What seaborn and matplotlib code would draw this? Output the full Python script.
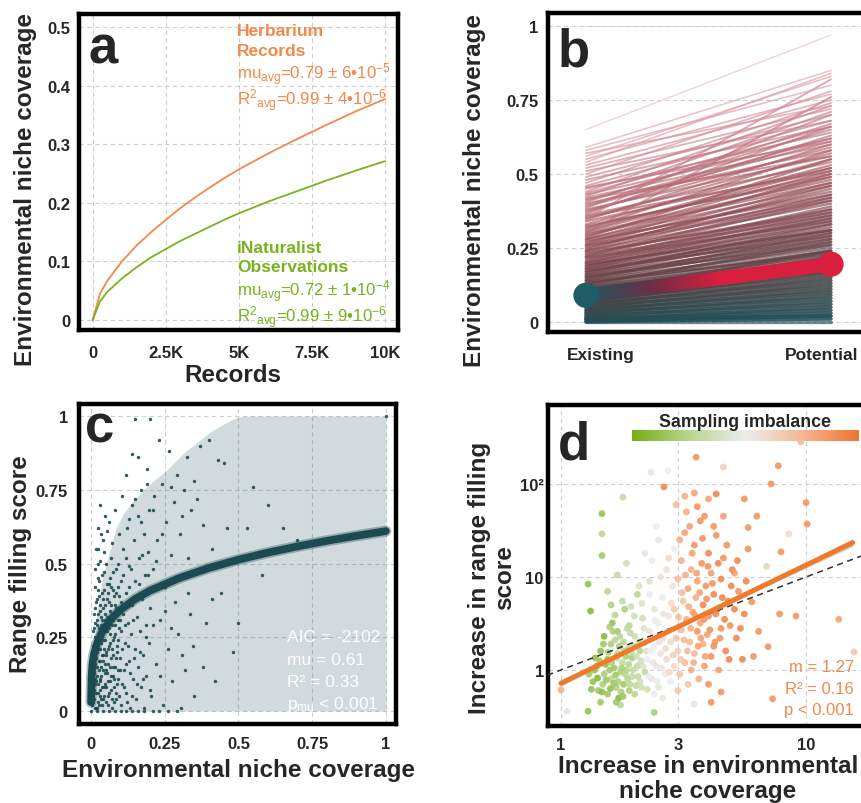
import numpy as np
import pandas as pd
import matplotlib
matplotlib.use("Agg")
import matplotlib.pyplot as plt
import seaborn as sns
from matplotlib.colors import LinearSegmentedColormap, Normalize
from matplotlib.collections import LineCollection
from matplotlib.transforms import ScaledTranslation
from matplotlib.cm import ScalarMappable

sns.set_theme(style="white")
plt.rcParams["font.family"] = ["Liberation Sans", "DejaVu Sans"]
plt.rcParams["mathtext.fontset"] = "custom"
plt.rcParams["mathtext.rm"] = "Liberation Sans"
plt.rcParams["mathtext.it"] = "Liberation Sans:italic"
plt.rcParams["mathtext.bf"] = "Liberation Sans:bold"

# ---------------- a: 누적 곡선 ----------------
a_records = [0, 250, 500, 1000, 1500, 2000, 2500, 3000, 3500, 4000, 4500, 5000,
             6000, 7000, 7500, 8000, 9000, 10000]
a_herbarium = [0.0, 0.045, 0.067, 0.100, 0.127, 0.150, 0.171, 0.191, 0.209, 0.226, 0.242, 0.257,
               0.284, 0.309, 0.321, 0.333, 0.356, 0.377]
a_inat = [0.0, 0.032, 0.048, 0.071, 0.090, 0.107, 0.121, 0.135, 0.147, 0.159, 0.171, 0.182,
          0.202, 0.220, 0.229, 0.238, 0.255, 0.271]

# ---------------- b: existing -> potential ----------------
b_species = [
    (1.0, 1.0), (0.65, 0.97), (0.59, 0.85), (0.58, 0.80), (0.57, 0.73), (0.56, 0.83), (0.55, 0.77),
    (0.54, 0.84), (0.53, 0.75), (0.52, 0.72), (0.51, 0.68), (0.50, 0.78), (0.49, 0.70), (0.48, 0.66),
    (0.47, 0.74), (0.46, 0.68), (0.455, 0.61), (0.45, 0.64), (0.44, 0.73), (0.435, 0.66), (0.43, 0.62),
    (0.425, 0.71), (0.42, 0.60), (0.415, 0.56), (0.41, 0.65), (0.405, 0.67), (0.40, 0.58), (0.395, 0.62),
    (0.39, 0.61), (0.385, 0.70), (0.38, 0.56), (0.375, 0.59), (0.37, 0.63), (0.365, 0.66), (0.36, 0.54),
    (0.355, 0.51), (0.35, 0.82), (0.35, 0.57), (0.345, 0.60), (0.34, 0.52), (0.33, 0.55), (0.325, 0.49),
    (0.32, 0.50), (0.315, 0.58), (0.31, 0.53), (0.305, 0.52), (0.30, 0.48), (0.30, 0.76), (0.295, 0.47),
    (0.29, 0.51), (0.285, 0.55), (0.28, 0.46), (0.28, 0.49), (0.275, 0.43), (0.27, 0.44), (0.265, 0.50),
    (0.26, 0.47), (0.26, 0.42), (0.255, 0.41), (0.25, 0.45), (0.245, 0.46), (0.24, 0.40), (0.24, 0.43),
    (0.235, 0.37), (0.23, 0.38), (0.225, 0.42), (0.22, 0.41), (0.22, 0.36), (0.215, 0.34), (0.21, 0.39),
    (0.205, 0.38), (0.20, 0.35), (0.20, 0.37), (0.195, 0.31), (0.19, 0.33), (0.19, 0.36), (0.185, 0.35),
    (0.18, 0.31), (0.18, 0.34), (0.175, 0.29), (0.17, 0.30), (0.17, 0.32), (0.165, 0.33), (0.16, 0.28),
    (0.16, 0.31), (0.155, 0.26), (0.15, 0.27), (0.15, 0.29), (0.145, 0.30), (0.14, 0.25), (0.14, 0.28),
    (0.135, 0.23), (0.13, 0.24), (0.13, 0.26), (0.125, 0.27), (0.12, 0.22), (0.12, 0.24), (0.115, 0.20),
    (0.11, 0.21), (0.11, 0.23), (0.105, 0.17), (0.10, 0.19), (0.10, 0.21), (0.098, 0.24), (0.09, 0.18),
    (0.09, 0.20), (0.088, 0.22), (0.085, 0.17), (0.08, 0.16), (0.08, 0.18), (0.078, 0.19), (0.075, 0.15),
    (0.07, 0.14), (0.07, 0.16), (0.068, 0.17), (0.065, 0.13), (0.06, 0.12), (0.06, 0.14), (0.058, 0.15),
    (0.055, 0.11), (0.05, 0.10), (0.05, 0.12), (0.048, 0.13), (0.045, 0.09), (0.04, 0.08), (0.04, 0.10),
    (0.038, 0.11), (0.035, 0.07), (0.03, 0.06), (0.03, 0.08), (0.028, 0.09), (0.025, 0.05), (0.02, 0.04),
    (0.02, 0.06), (0.018, 0.07), (0.015, 0.03), (0.012, 0.02), (0.01, 0.02), (0.01, 0.04), (0.008, 0.05),
    (0.005, 0.01), (0.002, 0.03), (0.0, 0.0), (0.0, 0.01), (0.0, 0.02),
]
b_stages = ["Existing", "Potential"]
b_mean = [0.09, 0.195]

# ---------------- c: range filling vs niche coverage ----------------
c_points = [
    (0.004, 0.02), (0.006, 0.08), (0.008, 0.15), (0.01, 0.04), (0.012, 0.22), (0.013, 0.11), (0.015, 0.30),
    (0.016, 0.06), (0.018, 0.18), (0.02, 0.38), (0.021, 0.01), (0.022, 0.26), (0.024, 0.09), (0.025, 0.33),
    (0.027, 0.14), (0.028, 0.44), (0.03, 0.05), (0.031, 0.21), (0.033, 0.29), (0.034, 0.12), (0.036, 0.40),
    (0.037, 0.02), (0.039, 0.17), (0.04, 0.35), (0.041, 0.24), (0.043, 0.08), (0.045, 0.47), (0.046, 0.31),
    (0.048, 0.13), (0.05, 0.20), (0.051, 0.03), (0.053, 0.38), (0.054, 0.27), (0.056, 0.10), (0.058, 0.16),
    (0.06, 0.43), (0.061, 0.06), (0.063, 0.23), (0.065, 0.34), (0.066, 0.52), (0.068, 0.12), (0.07, 0.29),
    (0.072, 0.01), (0.074, 0.19), (0.075, 0.41), (0.077, 0.08), (0.079, 0.25), (0.08, 0.36), (0.082, 0.15),
    (0.084, 0.48), (0.086, 0.04), (0.088, 0.22), (0.09, 0.31), (0.092, 0.11), (0.095, 0.39), (0.097, 0.18),
    (0.1, 0.27), (0.1, 0.02), (0.102, 0.44), (0.105, 0.09),
    (0.012, 0.48), (0.018, 0.55), (0.025, 0.62), (0.032, 0.51), (0.04, 0.58), (0.048, 0.66), (0.03, 0.70),
    (0.055, 0.61), (0.015, 0.42), (0.022, 0.50),
    (0.108, 0.33), (0.11, 0.55), (0.112, 0.14), (0.115, 0.23), (0.118, 0.06), (0.12, 0.40), (0.122, 0.62),
    (0.125, 0.30), (0.128, 0.17), (0.13, 0.49), (0.132, 0.01), (0.135, 0.26), (0.138, 0.70), (0.14, 0.36),
    (0.142, 0.11), (0.145, 0.58), (0.148, 0.21), (0.15, 0.44), (0.153, 0.04), (0.155, 0.32), (0.158, 0.66),
    (0.16, 0.15), (0.163, 0.52), (0.165, 0.27), (0.168, 0.08), (0.17, 0.75), (0.173, 0.38), (0.175, 0.19),
    (0.178, 0.60), (0.18, 0.01), (0.183, 0.46), (0.185, 0.29), (0.188, 0.12), (0.19, 0.82), (0.193, 0.54),
    (0.195, 0.23), (0.198, 0.68), (0.2, 0.35), (0.14, 0.87), (0.16, 0.86), (0.12, 0.80), (0.15, 0.99),
    (0.2, 0.99),
    (0.205, 0.05), (0.21, 0.48), (0.215, 0.73), (0.22, 0.16), (0.225, 0.58), (0.23, 0.92), (0.235, 0.31),
    (0.24, 0.77), (0.245, 0.02), (0.25, 0.42), (0.255, 0.64), (0.26, 0.21), (0.265, 0.88), (0.27, 0.53),
    (0.275, 0.10), (0.28, 0.71), (0.285, 0.37), (0.29, 0.80), (0.295, 0.26), (0.3, 0.60), (0.305, 0.01),
    (0.31, 0.45), (0.315, 0.75), (0.32, 0.14), (0.325, 0.86), (0.33, 0.52), (0.335, 0.33), (0.34, 0.68),
    (0.345, 0.22), (0.35, 0.78), (0.23, 0.0), (0.26, 0.0), (0.29, 0.0), (0.21, 0.0),
    (0.36, 0.47), (0.37, 0.90), (0.38, 0.63), (0.39, 0.30), (0.40, 0.92), (0.41, 0.55), (0.42, 0.10),
    (0.43, 0.85), (0.44, 0.40), (0.45, 0.84), (0.46, 0.62), (0.48, 0.20), (0.5, 0.30), (0.53, 0.62),
    (0.55, 0.76), (0.58, 0.46), (0.6, 0.70), (0.65, 0.62), (0.7, 0.58), (1.0, 1.0), (0.38, 0.15), (0.41, 0.38),
    (0.0, 0.0), (0.02, 0.0), (0.04, 0.0), (0.06, 0.0), (0.08, 0.0), (0.1, 0.0), (0.12, 0.0), (0.14, 0.0),
    (0.16, 0.0), (0.18, 0.0),
    (0.002, 0.05), (0.003, 0.12), (0.005, 0.19), (0.006, 0.03), (0.007, 0.27), (0.009, 0.10), (0.011, 0.33),
    (0.011, 0.07), (0.014, 0.16), (0.014, 0.25), (0.016, 0.37), (0.017, 0.01), (0.019, 0.12), (0.019, 0.29),
    (0.021, 0.20), (0.023, 0.45), (0.023, 0.03), (0.026, 0.17), (0.026, 0.39), (0.028, 0.23), (0.029, 0.11),
    (0.032, 0.34), (0.032, 0.07), (0.034, 0.26), (0.035, 0.15), (0.037, 0.46), (0.038, 0.31), (0.04, 0.04),
    (0.042, 0.19), (0.043, 0.41), (0.044, 0.28), (0.047, 0.09), (0.047, 0.36), (0.049, 0.24), (0.052, 0.14),
    (0.052, 0.50), (0.055, 0.32), (0.057, 0.05), (0.057, 0.21), (0.059, 0.40), (0.062, 0.28), (0.064, 0.15),
    (0.064, 0.45), (0.067, 0.07), (0.069, 0.36), (0.071, 0.21), (0.073, 0.12), (0.073, 0.47), (0.076, 0.31),
    (0.078, 0.03), (0.081, 0.26), (0.083, 0.40), (0.085, 0.18), (0.087, 0.09), (0.089, 0.34), (0.091, 0.50),
    (0.093, 0.24), (0.096, 0.05), (0.098, 0.31), (0.099, 0.14), (0.103, 0.37), (0.106, 0.21), (0.109, 0.46),
    (0.111, 0.08), (0.114, 0.29), (0.117, 0.16), (0.119, 0.52), (0.121, 0.03), (0.124, 0.36), (0.127, 0.22),
    (0.129, 0.42), (0.133, 0.13), (0.136, 0.48), (0.139, 0.05), (0.143, 0.31), (0.147, 0.18), (0.151, 0.38),
    (0.156, 0.09), (0.161, 0.43), (0.166, 0.20), (0.172, 0.53), (0.177, 0.11), (0.182, 0.40), (0.188, 0.25),
    (0.194, 0.46), (0.2, 0.07), (0.21, 0.29), (0.22, 0.51), (0.235, 0.12), (0.25, 0.34), (0.27, 0.28),
    (0.29, 0.45), (0.31, 0.19), (0.33, 0.40), (0.35, 0.05), (0.025, 0.55), (0.035, 0.60), (0.045, 0.54),
    (0.06, 0.64), (0.07, 0.57), (0.08, 0.68), (0.095, 0.60), (0.105, 0.73), (0.13, 0.65), (0.15, 0.72),
    (0.17, 0.64), (0.19, 0.77), (0.21, 0.68), (0.24, 0.60), (0.27, 0.76), (0.31, 0.66), (0.36, 0.72),
    (0.003, 0.07), (0.004, 0.16), (0.006, 0.22), (0.007, 0.04), (0.009, 0.13), (0.01, 0.28), (0.012, 0.09),
    (0.013, 0.19), (0.015, 0.01), (0.015, 0.35), (0.017, 0.24), (0.018, 0.10), (0.02, 0.15), (0.02, 0.31),
    (0.022, 0.06), (0.023, 0.21), (0.025, 0.41), (0.026, 0.02), (0.027, 0.28), (0.029, 0.17), (0.03, 0.36),
    (0.031, 0.10), (0.033, 0.23), (0.034, 0.04), (0.035, 0.32), (0.036, 0.19), (0.038, 0.08), (0.039, 0.27),
    (0.041, 0.14), (0.042, 0.38), (0.044, 0.05), (0.045, 0.21), (0.046, 0.16), (0.048, 0.33), (0.05, 0.08),
    (0.05, 0.27), (0.052, 0.19), (0.054, 0.43), (0.055, 0.13), (0.057, 0.30), (0.059, 0.02), (0.06, 0.22),
    (0.062, 0.37), (0.063, 0.10), (0.065, 0.26), (0.067, 0.18), (0.068, 0.42), (0.07, 0.04), (0.071, 0.33),
    (0.073, 0.15), (0.075, 0.24), (0.077, 0.39), (0.078, 0.11), (0.08, 0.29), (0.083, 0.06), (0.085, 0.35),
    (0.087, 0.20), (0.09, 0.14), (0.093, 0.42), (0.095, 0.28),
]
c_curve_x = [0.0, 0.002, 0.005, 0.01, 0.02, 0.04, 0.07, 0.1, 0.15, 0.2, 0.3, 0.4, 0.5, 0.6, 0.7, 0.8, 0.9, 1.0]
c_curve_y = [0.03, 0.12, 0.162, 0.193, 0.229, 0.273, 0.314, 0.343, 0.380, 0.408, 0.451, 0.485, 0.513,
             0.537, 0.558, 0.577, 0.594, 0.61]
c_band_x = [0.0, 0.005, 0.02, 0.04, 0.06, 0.085, 0.11, 0.15, 0.2, 0.26, 0.32, 0.41, 0.48, 0.52, 1.0]
c_band_hi = [0.03, 0.15, 0.33, 0.46, 0.53, 0.62, 0.67, 0.72, 0.77, 0.82, 0.88, 0.95, 0.99, 1.0, 1.0]

# ---------------- d: 증가량 (log-log) ----------------
d_points = [
    (1.35, 0.75, -0.8), (1.4, 1.1, -0.9), (1.42, 0.6, -0.7), (1.45, 1.6, -0.8), (1.5, 0.9, -0.6),
    (1.5, 2.3, -0.9), (1.55, 0.55, -0.7), (1.55, 1.3, -0.8), (1.6, 0.8, -0.5), (1.6, 1.9, -0.6),
    (1.62, 3.2, -0.8), (1.65, 1.05, -0.7), (1.68, 0.65, -0.6), (1.7, 1.5, -0.5), (1.7, 2.6, -0.7),
    (1.72, 0.5, -0.9), (1.75, 0.95, -0.6), (1.78, 1.2, -0.4), (1.8, 0.7, -0.7), (1.8, 2.0, -0.5),
    (1.82, 4.5, -0.6), (1.85, 1.0, -0.5), (1.88, 1.7, -0.4), (1.9, 0.6, -0.6), (1.9, 3.0, -0.5),
    (1.95, 0.85, -0.4), (1.95, 1.35, -0.6), (2.0, 2.3, -0.3), (2.0, 0.55, -0.5), (2.05, 1.1, -0.4),
    (2.05, 6.5, -0.5), (2.1, 0.75, -0.3), (2.1, 1.6, -0.5), (2.15, 3.6, -0.3), (2.2, 0.95, -0.4),
    (2.2, 2.0, -0.2), (1.55, 7.0, -0.5), (1.7, 10.5, -0.4), (1.85, 14, -0.3), (1.6, 5.0, -0.6),
    (2.3, 9.0, -0.2), (1.45, 0.45, -0.7), (1.75, 0.42, -0.5), (2.25, 0.62, -0.3),
    (1.3, 0.9, -0.7), (1.38, 1.35, -0.8), (1.48, 0.7, -0.6), (1.58, 1.0, -0.7), (1.66, 2.1, -0.5),
    (1.76, 0.58, -0.6), (1.84, 1.4, -0.6), (1.92, 2.5, -0.4), (2.02, 0.68, -0.4), (2.12, 1.25, -0.3),
    (1.52, 1.15, -0.8), (1.64, 0.72, -0.7), (1.73, 1.8, -0.6), (1.87, 0.8, -0.5), (1.98, 1.8, -0.4),
    (1.33, 0.62, -0.8), (1.37, 1.0, -0.8), (1.41, 0.82, -0.9), (1.44, 1.25, -0.7), (1.47, 0.58, -0.8),
    (1.49, 1.9, -0.7), (1.53, 0.78, -0.7), (1.56, 1.55, -0.6), (1.59, 0.63, -0.8), (1.61, 1.2, -0.6),
    (1.63, 2.6, -0.6), (1.67, 0.88, -0.7), (1.69, 1.35, -0.5), (1.71, 0.75, -0.6), (1.74, 2.3, -0.5),
    (1.77, 1.05, -0.6), (1.79, 0.52, -0.7), (1.81, 1.6, -0.5), (1.83, 0.9, -0.5), (1.86, 2.8, -0.4),
    (1.89, 1.15, -0.5), (1.91, 0.7, -0.5), (1.94, 1.55, -0.4), (1.97, 1.0, -0.4), (1.99, 3.8, -0.3),
    (2.03, 1.4, -0.3), (2.06, 0.85, -0.4), (2.08, 2.0, -0.3), (2.13, 0.65, -0.3), (2.16, 1.1, -0.2),
    (2.18, 2.8, -0.2), (2.23, 1.6, -0.2), (1.58, 2.9, -0.6), (1.66, 3.9, -0.5), (1.78, 5.5, -0.4),
    (1.93, 4.8, -0.3), (2.08, 8.0, -0.2), (2.14, 5.2, -0.2),
    (2.25, 1.3, 0.0), (2.3, 2.6, -0.1), (2.35, 0.8, 0.1), (2.4, 1.8, 0.0), (2.4, 4.5, -0.1),
    (2.45, 1.1, 0.1), (2.5, 3.2, 0.0), (2.5, 0.65, -0.1), (2.55, 1.5, 0.1), (2.6, 2.2, 0.2),
    (2.6, 6.0, 0.0), (2.65, 0.9, 0.0), (2.7, 12, 0.1), (2.7, 1.3, 0.2), (2.75, 3.8, 0.1),
    (2.8, 0.75, 0.0), (2.8, 2.0, 0.2), (2.85, 8.0, 0.1), (2.9, 1.1, 0.2), (2.9, 20, 0.0),
    (2.35, 15, 0.0), (2.5, 25, 0.1), (2.2, 18, -0.1), (2.6, 0.5, 0.1), (2.45, 35, 0.0),
    (2.28, 0.85, 0.0), (2.32, 1.6, 0.0), (2.38, 1.2, 0.1), (2.42, 3.4, 0.0), (2.47, 0.75, 0.0),
    (2.52, 2.0, 0.1), (2.57, 1.05, 0.1), (2.62, 4.0, 0.1), (2.67, 1.7, 0.2), (2.72, 2.6, 0.2),
    (2.77, 0.95, 0.2), (2.82, 5.2, 0.2), (2.87, 1.45, 0.3), (2.3, 6.5, 0.0), (2.55, 10, 0.1),
    (2.75, 16, 0.2), (2.4, 0.55, 0.0),
    (2.9, 4.5, 0.4), (3.0, 1.6, 0.3), (3.0, 9.5, 0.5), (3.05, 0.9, 0.4), (3.1, 2.7, 0.5),
    (3.1, 15, 0.6), (3.15, 5.5, 0.4), (3.2, 1.2, 0.5), (3.2, 30, 0.7), (3.25, 3.5, 0.6),
    (3.3, 0.7, 0.4), (3.3, 7.5, 0.7), (3.35, 2.0, 0.5), (3.4, 12, 0.6), (3.4, 1.0, 0.6),
    (3.45, 4.2, 0.7), (3.5, 22, 0.8), (3.5, 1.5, 0.5), (3.55, 6.0, 0.6), (3.6, 2.6, 0.8),
    (3.6, 9.0, 0.7), (3.65, 0.8, 0.6), (3.7, 3.2, 0.7), (3.7, 40, 0.8), (3.75, 14, 0.8),
    (3.8, 1.9, 0.6), (3.8, 5.0, 0.9), (3.85, 1.1, 0.7), (3.9, 8.0, 0.8), (3.95, 2.4, 0.7),
    (4.0, 18, 0.9), (4.0, 3.8, 0.8), (4.1, 1.4, 0.8), (4.1, 11, 0.7), (4.2, 6.5, 0.9),
    (4.25, 2.0, 0.8), (4.3, 28, 0.8), (4.35, 4.5, 0.9), (4.4, 1.0, 0.7), (4.5, 9.5, 0.9),
    (4.5, 2.8, 0.8), (4.6, 16, 0.8), (4.7, 1.6, 0.9), (4.8, 5.5, 0.9), (4.9, 3.0, 0.8),
    (5.0, 12, 0.9), (5.2, 2.2, 0.9), (5.3, 7.0, 0.8), (5.5, 1.3, 0.9), (5.6, 4.0, 0.9),
    (5.8, 20, 0.8), (3.25, 50, 0.6), (3.0, 0.6, 0.4), (4.0, 0.7, 0.8),
    (2.95, 2.2, 0.4), (3.02, 3.7, 0.5), (3.08, 1.3, 0.4), (3.12, 6.8, 0.5), (3.18, 2.1, 0.5),
    (3.22, 10.5, 0.6), (3.28, 1.6, 0.5), (3.32, 4.8, 0.6), (3.38, 2.8, 0.6), (3.43, 18, 0.7),
    (3.48, 1.2, 0.6), (3.52, 3.9, 0.7), (3.58, 11, 0.7), (3.63, 1.8, 0.7), (3.68, 6.8, 0.7),
    (3.72, 2.2, 0.7), (3.78, 26, 0.8), (3.83, 3.5, 0.8), (3.88, 1.4, 0.7), (3.93, 5.8, 0.8),
    (3.98, 13, 0.8), (4.05, 2.7, 0.8), (4.15, 8.5, 0.8), (4.2, 1.8, 0.8), (4.28, 4.0, 0.9),
    (4.38, 14, 0.9), (4.45, 2.2, 0.8), (4.55, 6.0, 0.9), (4.65, 3.5, 0.9), (4.75, 22, 0.8),
    (4.85, 1.3, 0.9), (4.95, 8.0, 0.9), (5.1, 4.5, 0.9), (5.25, 15, 0.9), (5.4, 2.8, 0.9),
    (5.7, 9.0, 0.9), (3.05, 25, 0.6), (3.35, 35, 0.7), (3.85, 45, 0.8), (4.2, 35, 0.8),
    (2.95, 60, 0.5), (3.5, 80, 0.7),
    (3.56, 194, 0.8), (7.7, 157, 0.8), (9.5, 283, 0.5), (7.2, 100, 0.8), (2.63, 93, 0.9),
    (2.33, 134, 0.1), (2.73, 138, 0.0), (4.6, 152, 0.3), (1.79, 72, -0.4), (1.47, 48, -0.8),
    (1.47, 29, -0.5), (1.47, 17, -0.7), (1.29, 8.4, -0.8), (1.32, 4.3, -0.9), (10, 63, 0.8),
    (10.1, 37, 0.8), (7.9, 18.6, 0.8), (13.6, 3.5, 0.7), (9.1, 3.8, 0.8), (7.8, 4.0, 0.8),
    (7.3, 0.49, 0.8), (1.0, 0.61, 0.6), (1.06, 0.36, 0.1), (15.7, 1.56, 0.4), (5.6, 69, 0.8),
    (5.8, 34, 0.8), (4.3, 78, 0.9), (4.0, 69, 0.7), (3.6, 57, 0.8), (3.2, 74, 0.6),
    (4.6, 45, 0.7), (6.3, 45, 0.8), (8.5, 29, 0.2), (6.9, 13, -0.3), (5.1, 11, 0.7),
    (2.18, 2.1, 0.0), (2.4, 0.35, -0.6), (1.29, 0.36, -0.8), (1.68, 0.45, -0.7), (3.5, 0.43, 0.1),
    (4.1, 0.45, 0.8), (4.5, 0.58, 0.8), (7.0, 1.78, 0.8), (6.1, 1.4, 0.8), (6.4, 2.6, 0.8),
    (6.0, 5.4, 0.8),
]
d_fit_x = [1.0, 2.0, 4.0, 8.0, 15.5]
d_fit_y = [0.72, 1.74, 4.18, 10.1, 23.4]
d_fit_lo = [0.67, 1.70, 4.10, 9.6, 21.2]
d_fit_hi = [0.77, 1.78, 4.27, 10.6, 25.8]
d_one_to_one = [0.8, 20.0]

# ---------------- 색상 ----------------
ORANGE = "#F0894A"
GREEN = "#78B31C"
TEAL = "#1B4A50"
b_cmap = LinearSegmentedColormap.from_list(
    "b", [(0, "#1d4f57"), (0.1, "#3b4548"), (0.2, "#5a3f43"), (0.35, "#7e454c"),
          (0.55, "#a55860"), (0.8, "#d58c96"), (1, "#efb5bd")])
mean_cmap = LinearSegmentedColormap.from_list("m", ["#1e5a62", "#6a2e45", "#d81f3d"])
imb_cmap = LinearSegmentedColormap.from_list(
    "imb", ["#74ad16", "#b7d58d", "#ececec", "#f6b894", "#ee7430"])


def style_frame(ax):
    for s in ax.spines.values():
        s.set_visible(True)
        s.set_color("black")
        s.set_linewidth(3.2)
    ax.grid(True, color="#cfcfcf", lw=0.8, ls=(0, (4, 3)))
    ax.set_axisbelow(True)
    ax.tick_params(length=0, labelsize=12)


def axis_labels(ax, xlabel, ylabel, xpos, ypos):
    ax.set_xlabel(xlabel, fontsize=17.5, fontweight="bold", linespacing=1.1)
    ax.set_ylabel(ylabel, fontsize=17.5, fontweight="bold", linespacing=1.1)
    if xpos is not None:
        ax.xaxis.set_label_coords(*xpos)
        ax.xaxis.label.set_va("center")
    ax.yaxis.set_label_coords(*ypos)
    ax.yaxis.label.set_va("center")


def panel_letter(ax, letter, x, y):
    ax.text(x, y, letter, transform=ax.transAxes, fontsize=38, fontweight="bold",
            va="baseline", ha="left", zorder=10)


fig = plt.figure(figsize=(8.62, 8.04), dpi=100)

# ================= a =================
ax = fig.add_axes([0.0916, 0.5883, 0.370, 0.393])
sns.lineplot(x=a_records, y=a_herbarium, color=ORANGE, lw=1.3, ax=ax)
sns.lineplot(x=a_records, y=a_inat, color=GREEN, lw=1.3, ax=ax)
ax.set_xlim(-470, 10440)
ax.set_ylim(-0.017, 0.522)
ax.set_xticks([0, 2500, 5000, 7500, 10000], ["0", "2.5K", "5K", "7.5K", "10K"], fontweight="bold")
ax.set_yticks([0, 0.1, 0.2, 0.3, 0.4, 0.5], ["0", "0.1", "0.2", "0.3", "0.4", "0.5"], fontweight="bold")
style_frame(ax)
ax.tick_params(axis="x", pad=11)
ax.tick_params(axis="y", pad=6)
axis_labels(ax, "Records", "Environmental niche coverage", (0.483, -0.142), (-0.169, 0.449))
panel_letter(ax, "a", 0.03, 0.848)
tx = 0.495
# (y, 문구, 색, 굵기)
a_notes = [
    (0.948, "Herbarium", ORANGE, "bold"),
    (0.886, "Records", ORANGE, "bold"),
    (0.812, r"mu$_{\mathregular{avg}}$=0.79 ± 6•10$^{\mathregular{-5}}$", ORANGE, "normal"),
    (0.73, r"R$^{\mathregular{2}}$$_{\mathregular{avg}}$=0.99 ± 4•10$^{\mathregular{-6}}$", ORANGE, "normal"),
    (0.262, "iNaturalist", GREEN, "bold"),
    (0.2, "Observations", GREEN, "bold"),
    (0.125, r"mu$_{\mathregular{avg}}$=0.72 ± 1•10$^{\mathregular{-4}}$", GREEN, "normal"),
    (0.042, r"R$^{\mathregular{2}}$$_{\mathregular{avg}}$=0.99 ± 9•10$^{\mathregular{-6}}$", GREEN, "normal"),
]
for y, s, col, wt in a_notes:
    ax.text(tx, y, s, transform=ax.transAxes, color=col, fontsize=12.5 if wt == "bold" else 12.2,
            fontweight=wt, va="center")

# ================= b =================
ax = fig.add_axes([0.6357, 0.5858, 0.3747, 0.3968])
b_arr = np.array(b_species)
n_sp = len(b_arr)
b_df = pd.DataFrame({
    "sp": np.repeat(np.arange(n_sp), 2),
    "stage": np.tile([0, 1], n_sp),
    "coverage": b_arr.ravel(),
})
b_df["level"] = b_df.groupby("sp")["coverage"].transform("mean")
b_df["depth"] = 1 - b_df["level"]
sns.lineplot(data=b_df, x="stage", y="coverage", units="sp", estimator=None, hue="level",
             hue_norm=(0, 0.8), palette=b_cmap, size="depth", size_norm=(0, 1), sizes=(0.6, 2.4),
             alpha=0.65, legend=False, sort=False, ax=ax)

# 평균선: 색 그라데이션을 위해 선분을 잘게 나눔
seg_x = np.linspace(0, 1, 61)
seg_y = b_mean[0] + (b_mean[1] - b_mean[0]) * seg_x
pts = np.column_stack([seg_x, seg_y])
segs = np.stack([pts[:-1], pts[1:]], axis=1)
lc = LineCollection(segs, cmap=mean_cmap, norm=Normalize(0.09, 0.15), linewidths=10,
                    capstyle="round", zorder=4)
lc.set_array((seg_y[:-1] + seg_y[1:]) / 2)
ax.add_collection(lc)
sns.scatterplot(x=[0, 1], y=b_mean, hue=b_stages, palette=["#1e5d66", "#dc1f3f"], s=330,
                linewidth=0, legend=False, zorder=5, ax=ax)
ax.set_xlim(-0.155, 1.163)
ax.set_ylim(-0.034, 1.044)
ax.set_xticks([0, 1], b_stages, fontweight="bold", fontsize=12.5)
ax.set_yticks([0, 0.25, 0.5, 0.75, 1], ["0", "0.25", "0.5", "0.75", "1"], fontweight="bold")
style_frame(ax)
ax.grid(False, axis="x")
ax.tick_params(axis="x", pad=11, labelsize=12.5)
ax.tick_params(axis="y", pad=7)
for lbl, dx in zip(ax.get_xticklabels(), [15, -9]):
    lbl.set_transform(lbl.get_transform() + ScaledTranslation(dx / 100, 0, fig.dpi_scale_trans))
axis_labels(ax, "", "Environmental niche coverage", None, (-0.229, 0.448))
panel_letter(ax, "b", 0.03, 0.834)

# ================= c =================
ax = fig.add_axes([0.0916, 0.0983, 0.3677, 0.398])
c_df = pd.DataFrame(c_points, columns=["coverage", "filling"])
ax.fill_between(c_band_x, 0, c_band_hi, color=TEAL, alpha=0.2, lw=0)
sns.scatterplot(data=c_df, x="coverage", y="filling", color=TEAL, s=6, linewidth=0, alpha=0.9, ax=ax)
sns.lineplot(x=c_curve_x, y=c_curve_y, color=TEAL, lw=8, alpha=0.35, ax=ax)
sns.lineplot(x=c_curve_x, y=c_curve_y, color=TEAL, lw=5.5, ax=ax)
ax.set_xlim(-0.041, 1.034)
ax.set_ylim(-0.044, 1.041)
ticks = [0, 0.25, 0.5, 0.75, 1]
tlabs = ["0", "0.25", "0.5", "0.75", "1"]
ax.set_xticks(ticks, tlabs, fontweight="bold")
ax.set_yticks(ticks, tlabs, fontweight="bold")
style_frame(ax)
ax.tick_params(axis="x", pad=9)
ax.tick_params(axis="y", pad=8)
axis_labels(ax, "Environmental niche coverage", "Range filling score", (0.502, -0.141), (-0.186, 0.503))
panel_letter(ax, "c", 0.02, 0.884)
for i, s in enumerate(["AIC = -2102", "mu = 0.61", "R² = 0.33", r"p$_{\mathregular{mu}}$ < 0.001"]):
    ax.text(0.656, 0.273 - i * 0.07, s, transform=ax.transAxes, color="white", fontsize=12.5,
            va="center", ha="left")

# ================= d =================
ax = fig.add_axes([0.6357, 0.0958, 0.3747, 0.3993])
d_df = pd.DataFrame(d_points, columns=["niche", "filling", "imbalance"])
ax.set_xscale("log")
ax.set_yscale("log")
sns.scatterplot(data=d_df, x="niche", y="filling", hue="imbalance", hue_norm=(-1, 1),
                palette=imb_cmap, s=24, linewidth=0, alpha=0.85, legend=False, ax=ax)
ax.plot(d_one_to_one, d_one_to_one, color="#333333", lw=1.1, ls=(0, (4, 3)), zorder=3)
ax.fill_between(d_fit_x, d_fit_lo, d_fit_hi, color="#b5b5b5", alpha=0.6, lw=0, zorder=3)
sns.lineplot(x=d_fit_x, y=d_fit_y, color="#F07A2C", lw=3.6, zorder=4, ax=ax)
ax.set_xlim(0.885, 18.4)
ax.set_ylim(0.25, 707)
ax.set_xticks([1, 3, 10], ["1", "3", "10"], fontweight="bold")
ax.set_yticks([1, 10, 100], ["1", "10", "10²"], fontweight="bold")
ax.minorticks_off()
style_frame(ax)
ax.tick_params(axis="x", pad=8)
ax.tick_params(axis="y", pad=3)
axis_labels(ax, "Increase in environmental\nniche coverage", "Increase in range filling\nscore",
            (0.495, -0.162), (-0.173, 0.464))
panel_letter(ax, "d", 0.03, 0.832)
for i, s in enumerate(["m = 1.27", "R² = 0.16", "p < 0.001"]):
    ax.text(0.948, 0.186 - i * 0.068, s, transform=ax.transAxes, color="#F08A50", fontsize=12,
            va="center", ha="right")

# 색상 막대 (Sampling imbalance)
cax = fig.add_axes([0.733, 0.450, 0.263, 0.0137])
cb = fig.colorbar(ScalarMappable(norm=Normalize(-1, 1), cmap=imb_cmap), cax=cax, orientation="horizontal")
cb.outline.set_visible(False)
cax.set_xticks([])
fig.text(0.864, 0.475, "Sampling imbalance", ha="center", va="center", fontsize=12.8, fontweight="bold")

fig.savefig("out.png", dpi=100)
